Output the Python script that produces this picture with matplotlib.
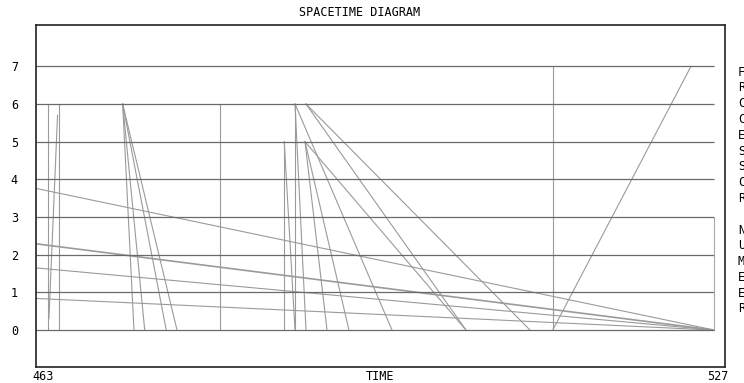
"""
Spacetime diagram - grey trajectory lines over level grid.
"""
import matplotlib
matplotlib.use('Agg')
import matplotlib.pyplot as plt

T_MIN, T_MAX = 463, 527
T_END = 526

grid_levels = [0, 1, 2, 3, 4, 5, 6, 7]

# vertical lines: time, bottom level, top level
vert_t   = [464.1, 465.1, 480.1, 511.0, 487.06, 486.06]
vert_bot = [0, 0, 0, 0, 0, 0]
vert_top = [6, 6, 6, 7, 6, 5]

# sloped lines: start (t0, y0) -> end (t1, y1)
line_t0 = [464.2, 471.05, 471.05, 471.05, 471.05,
           487.06, 487.06, 488.08, 488.08,
           486.06, 487.99, 487.99, 487.99, 511.0]
line_y0 = [0.3, 6, 6, 6, 6,
           6, 6, 6, 6,
           5, 5, 5, 5, 0]
line_t1 = [465.0, 472.1, 473.1, 475.1, 476.1,
           488.08, 496.07, 502.94, 508.89,
           487.06, 490.03, 492.07, 502.94, 523.84]
line_y1 = [5.7, 0, 0, 0, 0,
           0, 0, 0, 0,
           0, 0, 0, 0, 7]

# shallow lines from the left edge converging to (T_END, 0)
shallow_y = [3.76, 2.29, 1.65, 0.84]
shallow_w = [0.8, 1.2, 0.8, 0.8]

legend_a = ['F', 'R', 'C', 'C', 'E', 'S', 'S', 'C', 'R']
legend_b = ['N', 'U', 'M', 'E', 'E', 'R']

FONT = 'DejaVu Sans Mono'
GRID_C = '#6a6a6a'
LINE_C = '#9a9a9a'

W, H = 744, 383
fig = plt.figure(figsize=(W / 100, H / 100), dpi=100)
fig.patch.set_facecolor('white')
ax = fig.add_axes([36 / W, 1 - 367 / H, 689 / W, (367 - 24.5) / H])
ax.set_xlim(T_MIN, T_MAX)
ax.set_ylim(-0.98, 8.11)

ax.hlines(grid_levels, T_MIN, T_END, color=GRID_C, linewidth=0.9, zorder=2)
ax.vlines(T_END, 0, 3, color='#a8a8a8', linewidth=0.8, zorder=2)
ax.vlines(vert_t, vert_bot, vert_top, color=LINE_C, linewidth=0.8, zorder=1)

for t0, y0, t1, y1 in zip(line_t0, line_y0, line_t1, line_y1):
    ax.plot([t0, t1], [y0, y1], color=LINE_C, linewidth=0.8, zorder=1)

for y0, lw in zip(shallow_y, shallow_w):
    ax.plot([T_MIN, T_END], [y0, 0], color=LINE_C, linewidth=lw, zorder=1)

ax.set_yticks(grid_levels)
ax.set_yticklabels([str(v) for v in grid_levels], family=FONT, fontsize=8.5)
ax.tick_params(axis='y', length=0, pad=13)
ax.set_xticks([])
for s in ax.spines.values():
    s.set_color('#222222')
    s.set_linewidth(1.2)

fig.text(360 / W, 1 - 13 / H, 'SPACETIME DIAGRAM', family=FONT, fontsize=8.5,
         ha='center', va='center')
fig.text(43 / W, 1 - 377 / H, '463', family=FONT, fontsize=8.5, ha='center', va='center')
fig.text(380 / W, 1 - 377 / H, 'TIME', family=FONT, fontsize=8.5, ha='center', va='center')
fig.text(718 / W, 1 - 377 / H, '527', family=FONT, fontsize=8.5, ha='center', va='center')

for i, s in enumerate(legend_a):
    fig.text(738 / W, 1 - (72 + i * 15.8) / H, s, family=FONT, fontsize=8.5,
             ha='left', va='center')
for i, s in enumerate(legend_b):
    fig.text(738 / W, 1 - (230 + i * 15.8) / H, s, family=FONT, fontsize=8.5,
             ha='left', va='center')

fig.savefig('out.png', dpi=100)
